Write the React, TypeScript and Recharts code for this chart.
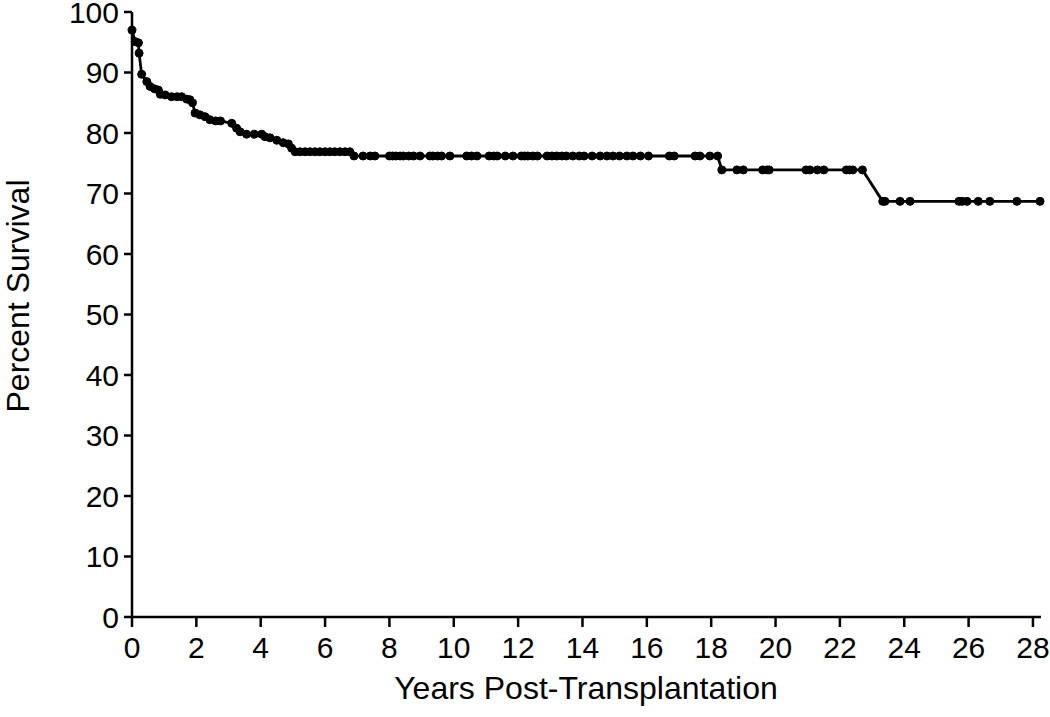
import React from 'react';
import { LineChart, Line, XAxis, YAxis, Label } from 'recharts';

const years: number[] = [
  0, 0.1, 0.2, 0.22, 0.3, 0.46, 0.56, 0.7, 0.82, 0.88, 1.03, 1.23, 1.4, 1.54, 1.7, 1.8, 1.88,
  1.96, 2.11, 2.27, 2.42, 2.6, 2.75, 3.1, 3.25, 3.36, 3.56, 3.8, 4.03, 4.13, 4.29, 4.5, 4.7, 4.86, 4.96,
  5.07, 5.22, 5.38, 5.53, 5.69, 5.84, 6.0, 6.15, 6.3, 6.46, 6.62, 6.77,
  6.9, 7.18, 7.4, 7.55, 8.0, 8.1, 8.2, 8.33, 8.43, 8.6, 8.75, 8.95, 9.26, 9.35, 9.5, 9.62, 9.88,
  10.4, 10.55, 10.72, 11.1, 11.25, 11.35, 11.6, 11.84, 12.1, 12.2, 12.3, 12.46, 12.6, 12.9, 13.05,
  13.2, 13.36, 13.5, 13.7, 13.9, 14.05, 14.3, 14.55, 14.76, 14.95, 15.15, 15.38, 15.57, 15.8, 16.05,
  16.7, 16.85, 17.5, 17.65, 17.96, 18.2,
  18.33, 18.8, 19.0, 19.6, 19.73, 19.8, 20.95, 21.07, 21.3, 21.5, 22.2, 22.3, 22.4, 22.7,
  23.33, 23.4, 23.87, 24.18, 25.7, 25.8, 25.95, 26.3, 26.66, 27.5, 28.22,
];

const survival: number[] = [
  97, 95.1, 94.9, 93.2, 89.7, 88.5, 87.7, 87.3, 87.1, 86.4, 86.3, 86.0, 86.0, 86.0, 85.6, 85.5, 85.0,
  83.3, 83.0, 82.7, 82.2, 82.0, 82.0, 81.6, 80.8, 80.2, 79.8, 79.8, 79.8, 79.4, 79.2, 78.8, 78.4, 78.2, 77.5,
  76.9, 76.9, 76.9, 76.9, 76.9, 76.9, 76.9, 76.9, 76.9, 76.9, 76.9, 76.9,
  76.2, 76.2, 76.2, 76.2, 76.2, 76.2, 76.2, 76.2, 76.2, 76.2, 76.2, 76.2, 76.2, 76.2, 76.2, 76.2, 76.2,
  76.2, 76.2, 76.2, 76.2, 76.2, 76.2, 76.2, 76.2, 76.2, 76.2, 76.2, 76.2, 76.2, 76.2, 76.2,
  76.2, 76.2, 76.2, 76.2, 76.2, 76.2, 76.2, 76.2, 76.2, 76.2, 76.2, 76.2, 76.2, 76.2, 76.2,
  76.2, 76.2, 76.2, 76.2, 76.2, 76.2,
  73.9, 73.9, 73.9, 73.9, 73.9, 73.9, 73.9, 73.9, 73.9, 73.9, 73.9, 73.9, 73.9, 73.9,
  68.7, 68.7, 68.7, 68.7, 68.7, 68.7, 68.7, 68.7, 68.7, 68.7, 68.7,
];

const xTicks: number[] = [0, 2, 4, 6, 8, 10, 12, 14, 16, 18, 20, 22, 24, 26, 28];
const yTicks: number[] = [0, 10, 20, 30, 40, 50, 60, 70, 80, 90, 100];

const xLabel = 'Years Post-Transplantation';
const yLabel = 'Percent Survival';

const data = years.map((t, i) => ({ t, s: survival[i] }));

const FONT = '"Liberation Sans", Arial, sans-serif';

export default function App() {
  return (
    <div style={{ position: 'absolute', left: 0, top: 0 }}>
      <LineChart
        width={1050}
        height={717}
        data={data}
        margin={{ top: 12, right: 9, bottom: 0, left: 0 }}
      >
        <XAxis
          dataKey="t"
          type="number"
          domain={[0, 28.25]}
          ticks={xTicks}
          interval={0}
          height={100}
          tickSize={10}
          tickMargin={10}
          axisLine={{ stroke: '#000', strokeWidth: 2.5 }}
          tickLine={{ stroke: '#000', strokeWidth: 2.5 }}
          tick={{ fill: '#000', fontSize: 30, fontFamily: FONT }}
        >
          <Label
            content={() => (
              <text x={586} y={699} textAnchor="middle" fontSize={32} fontFamily={FONT} fill="#000">
                {xLabel}
              </text>
            )}
          />
        </XAxis>
        <YAxis
          type="number"
          domain={[0, 100]}
          ticks={yTicks}
          interval={0}
          width={132}
          tickSize={8}
          tickMargin={5}
          axisLine={{ stroke: '#000', strokeWidth: 2.5 }}
          tickLine={{ stroke: '#000', strokeWidth: 2.5 }}
          tick={{ fill: '#000', fontSize: 30, fontFamily: FONT }}
        >
          <Label
            content={() => (
              <text
                x={29}
                y={296}
                transform="rotate(-90 29 296)"
                textAnchor="middle"
                fontSize={32}
                fontFamily={FONT}
                fill="#000"
              >
                {yLabel}
              </text>
            )}
          />
        </YAxis>
        <Line
          dataKey="s"
          type="linear"
          stroke="#000"
          strokeWidth={2.8}
          dot={{ r: 4, fill: '#000', stroke: '#000', strokeWidth: 1 }}
          isAnimationActive={false}
        />
      </LineChart>
    </div>
  );
}
